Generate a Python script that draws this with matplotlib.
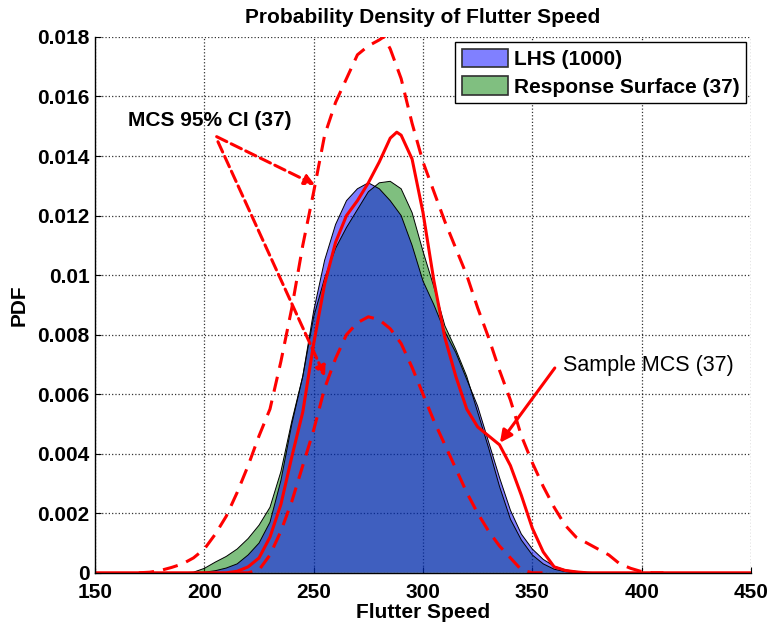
import matplotlib.pyplot as plt
from matplotlib.patches import Patch

plt.rcParams['font.family'] = ['Liberation Sans', 'DejaVu Sans']

# LHS (1000) density
lhs_x = [150, 190, 195, 200, 205, 210, 215, 220, 225, 230, 235, 240, 245, 250, 255, 260, 265, 270,
         275, 280, 285, 290, 295, 300, 305, 310, 315, 320, 325, 330, 335, 340, 345, 350, 355,
         360, 365, 370, 375, 380, 450]
lhs_y = [0, 0, 0.00001, 0.00002, 0.00007, 0.00016, 0.0003, 0.0006, 0.001, 0.0017, 0.0031, 0.005,
         0.0066, 0.0088, 0.0105, 0.0117, 0.0125, 0.0129, 0.0131, 0.0129, 0.0125, 0.0120, 0.0110,
         0.0098, 0.0090, 0.0081, 0.0074, 0.0065, 0.0056, 0.0044, 0.0032, 0.0021, 0.0013, 0.0008,
         0.00045, 0.00022, 0.0001, 0.00005, 0.00002, 0, 0]

# Response surface (37) density
rs_x = [150, 190, 195, 200, 205, 210, 215, 220, 225, 230, 235, 240, 245, 250, 255, 260, 265, 270,
        275, 280, 285, 290, 295, 300, 305, 310, 315, 320, 325, 330, 335, 340, 345, 350, 355,
        360, 365, 370, 450]
rs_y = [0, 0, 0.00002, 0.00015, 0.00036, 0.00055, 0.0008, 0.00115, 0.0016, 0.0022, 0.0034, 0.0051,
        0.0066, 0.0086, 0.0099, 0.0109, 0.0116, 0.0122, 0.0128, 0.0131, 0.01315, 0.0129, 0.0121,
        0.0108, 0.0096, 0.0083, 0.0075, 0.0066, 0.0054, 0.0042, 0.0029, 0.0018, 0.0011, 0.0006,
        0.0003, 0.00012, 0.00004, 0, 0]

# sample MCS (37)
mcs_x = [150, 210, 215, 220, 225, 230, 235, 240, 245, 250, 255, 260, 265, 270, 275, 280, 285, 288,
         290, 295, 300, 305, 310, 315, 320, 325, 330, 335, 340, 345, 350, 355, 360, 365, 370,
         375, 450]
mcs_y = [0, 0, 0.00005, 0.0002, 0.0005, 0.0012, 0.0023, 0.0039, 0.0054, 0.0077, 0.0097, 0.0111,
         0.0120, 0.0125, 0.0131, 0.0138, 0.0146, 0.0148, 0.0147, 0.0139, 0.0121, 0.0098, 0.0079,
         0.0066, 0.0055, 0.0049, 0.0046, 0.0043, 0.0036, 0.0026, 0.0015, 0.0007, 0.0002, 0.00008,
         0.00003, 0, 0]

# MCS 95% CI bounds
ci_hi_x = [170, 175, 180, 185, 190, 195, 200, 205, 210, 215, 220, 225, 230, 235, 240, 245, 250,
           255, 260, 265, 270, 275, 280, 282, 285, 290, 295, 300, 305, 310, 315, 320, 325, 330,
           335, 340, 345, 350, 355, 360, 365, 370, 375, 380, 385, 390, 395, 400, 405, 410]
ci_hi_y = [0, 0.00002, 0.00008, 0.00018, 0.0003, 0.0005, 0.0008, 0.0013, 0.0019, 0.0027, 0.0036,
           0.0046, 0.0055, 0.0071, 0.0089, 0.0110, 0.0128, 0.0147, 0.0158, 0.0166, 0.0174, 0.0177,
           0.0179, 0.0180, 0.0176, 0.0166, 0.0151, 0.0138, 0.0128, 0.0118, 0.0109, 0.0100, 0.0089,
           0.0079, 0.0068, 0.0058, 0.0046, 0.0037, 0.0029, 0.0022, 0.0016, 0.0012, 0.0010, 0.0008,
           0.0006, 0.0003, 0.00015, 0.00004, 0, 0]
ci_lo_x = [215, 220, 225, 230, 235, 240, 245, 250, 255, 260, 265, 270, 275, 280, 285, 290, 295,
           300, 305, 310, 315, 320, 325, 330, 335, 340, 345, 350, 355]
ci_lo_y = [0, 0, 0.0001, 0.0006, 0.0014, 0.0024, 0.0036, 0.0048, 0.0062, 0.0072, 0.0080, 0.0084,
           0.0086, 0.0085, 0.0082, 0.0077, 0.0069, 0.0060, 0.0051, 0.0043, 0.0035, 0.0027, 0.0020,
           0.0014, 0.0009, 0.0005, 0.0001, 0, 0]

x_ticks = [150, 200, 250, 300, 350, 400, 450]
y_ticks = [0, 0.002, 0.004, 0.006, 0.008, 0.01, 0.012, 0.014, 0.016, 0.018]
y_labels = ['0', '0.002', '0.004', '0.006', '0.008', '0.01', '0.012', '0.014', '0.016', '0.018']

fig = plt.figure(figsize=(7.67, 6.26), dpi=100)
ax = fig.add_axes([0.124, 0.085, 0.855, 0.856])

ax.grid(True, color='black', linestyle=':', linewidth=0.9, alpha=0.8)
ax.set_axisbelow(True)

ax.fill_between(rs_x, rs_y, color=(0, 0.5, 0), alpha=0.5, edgecolor='none')
ax.plot(rs_x, rs_y, color='black', linewidth=0.7)
ax.fill_between(lhs_x, lhs_y, color=(0, 0, 1), alpha=0.5, edgecolor='none')
ax.plot(lhs_x, lhs_y, color='black', linewidth=0.7)

ax.plot(ci_hi_x, ci_hi_y, color='red', linestyle=(0, (5, 3)), linewidth=2.2)
ax.plot(ci_lo_x, ci_lo_y, color='red', linestyle=(0, (5, 3)), linewidth=2.2)
ax.plot(mcs_x, mcs_y, color='red', linewidth=2.2)

handles = [Patch(facecolor='#8080ff', edgecolor='#303030', linewidth=1.2, label='LHS (1000)'),
           Patch(facecolor='#80bf80', edgecolor='#303030', linewidth=1.2, label='Response Surface (37)')]
leg = ax.legend(handles=handles, loc='upper right', bbox_to_anchor=(0.992, 0.99), borderaxespad=0,
                fancybox=False, framealpha=1, edgecolor='black', prop={'weight': 'bold', 'size': 15},
                handlelength=2.2, handleheight=1.0, handletextpad=0.3, labelspacing=0.35,
                borderpad=0.3)
leg.get_frame().set_linewidth(1.0)

# annotations
ax.text(165, 0.0152, 'MCS 95% CI (37)', fontsize=15, fontweight='bold', va='center')
ax.annotate('', xy=(250.6, 0.01303), xytext=(205.6, 0.01465),
            arrowprops=dict(arrowstyle='-|>', color='red', lw=2.2, linestyle='--',
                            mutation_scale=15, shrinkA=0, shrinkB=0))
ax.annotate('', xy=(255.2, 0.00659), xytext=(206.2, 0.01448),
            arrowprops=dict(arrowstyle='-|>', color='red', lw=2.2, linestyle='--',
                            mutation_scale=15, shrinkA=0, shrinkB=0))
ax.text(364, 0.00695, 'Sample MCS (37)', fontsize=15.5, va='center')
ax.annotate('', xy=(335.2, 0.00437), xytext=(360.3, 0.00688),
            arrowprops=dict(arrowstyle='-|>', color='red', lw=2.2,
                            mutation_scale=18, shrinkA=0, shrinkB=0))

ax.set_xlim(150, 450)
ax.set_ylim(0, 0.018)
ax.set_xticks(x_ticks)
ax.set_yticks(y_ticks)
ax.set_yticklabels(y_labels)
ax.tick_params(direction='in', labelsize=15, length=4, width=0.8)
ax.tick_params(axis='x', pad=7)
ax.tick_params(axis='y', pad=4)
for lbl in ax.get_xticklabels() + ax.get_yticklabels():
    lbl.set_fontweight('bold')
ax.spines['top'].set_visible(False)
ax.spines['right'].set_visible(False)
ax.spines['left'].set_linewidth(1.0)
ax.spines['bottom'].set_linewidth(1.0)

ax.set_title('Probability Density of Flutter Speed', fontsize=15, fontweight='bold', pad=10)
ax.set_xlabel('Flutter Speed', fontsize=15, fontweight='bold', labelpad=1)
ax.set_ylabel('PDF', fontsize=15, fontweight='bold', labelpad=6)

fig.savefig('out.png', dpi=100)
